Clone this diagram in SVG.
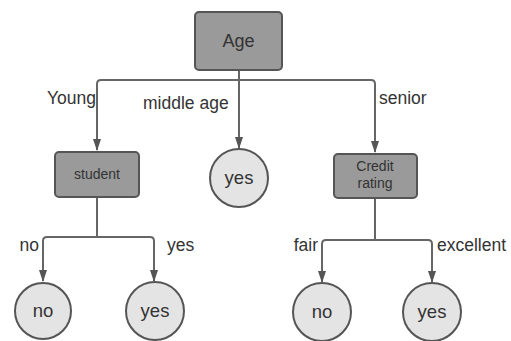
<svg xmlns="http://www.w3.org/2000/svg" width="511" height="341" viewBox="0 0 511 341">
<style>
.box{fill:#9a9a9a;stroke:#555;stroke-width:2}
.leaf{fill:#e4e4e4;stroke:#555;stroke-width:2}
.t{font-family:"Liberation Sans",Arial,sans-serif;fill:#333;text-anchor:middle}
.lbl{font-family:"Liberation Sans",Arial,sans-serif;fill:#333;font-size:17.5px}
.c{fill:none;stroke:#666;stroke-width:2}
</style>
<defs>
<marker id="ah" viewBox="0 0 12 8" refX="11" refY="4" markerWidth="6" markerHeight="4" orient="auto">
<path d="M0,0 L12,4 L0,8 z" fill="#555"/>
</marker>
</defs>
<rect width="511" height="341" fill="#fff"/>
<g id="connectors">
<path class="c" d="M239,70 V80"/>
<path class="c" d="M239,80 H101 Q97,80 97,84 V150" marker-end="url(#ah)"/>
<path class="c" d="M239,80 V148" marker-end="url(#ah)"/>
<path class="c" d="M239,80 H371 Q375,80 375,84 V152" marker-end="url(#ah)"/>
<path class="c" d="M97,197 V237"/>
<path class="c" d="M97,237 H47 Q43,237 43,241 V281" marker-end="url(#ah)"/>
<path class="c" d="M97,237 H150 Q154,237 154,241 V281" marker-end="url(#ah)"/>
<path class="c" d="M375,198 V240"/>
<path class="c" d="M375,240 H326 Q322,240 322,244 V282" marker-end="url(#ah)"/>
<path class="c" d="M375,240 H428 Q432,240 432,244 V282" marker-end="url(#ah)"/>
<text class="lbl" x="96" y="104" text-anchor="end">Young</text>
<text class="lbl" x="143" y="109">middle age</text>
<text class="lbl" x="379" y="104">senior</text>
<text class="lbl" x="39" y="251" text-anchor="end">no</text>
<text class="lbl" x="167" y="251">yes</text>
<text class="lbl" x="318" y="251" text-anchor="end">fair</text>
<text class="lbl" x="437" y="251">excellent</text>
</g>
<g id="age"><rect class="box" x="195" y="12" width="87" height="58" rx="4"/><text class="t" x="238.5" y="47" font-size="18">Age</text></g>
<g id="student"><rect class="box" x="55" y="152" width="84" height="45" rx="4"/><text class="t" x="97" y="179" font-size="14">student</text></g>
<g id="mid-yes"><circle class="leaf" cx="239" cy="178" r="29"/><text class="t" x="239" y="184" font-size="18.5">yes</text></g>
<g id="credit"><rect class="box" x="334" y="154" width="83" height="44" rx="4"/><text class="t" x="375" y="171" font-size="14">Credit</text><text class="t" x="375" y="188" font-size="14">rating</text></g>
<g id="no1"><circle class="leaf" cx="43" cy="311" r="28"/><text class="t" x="43" y="317" font-size="18.5">no</text></g>
<g id="yes1"><circle class="leaf" cx="155" cy="311" r="29"/><text class="t" x="155" y="317" font-size="18.5">yes</text></g>
<g id="no2"><circle class="leaf" cx="322" cy="312" r="29"/><text class="t" x="322" y="318" font-size="18.5">no</text></g>
<g id="yes2"><circle class="leaf" cx="432" cy="312" r="29"/><text class="t" x="432" y="318" font-size="18.5">yes</text></g>
</svg>
